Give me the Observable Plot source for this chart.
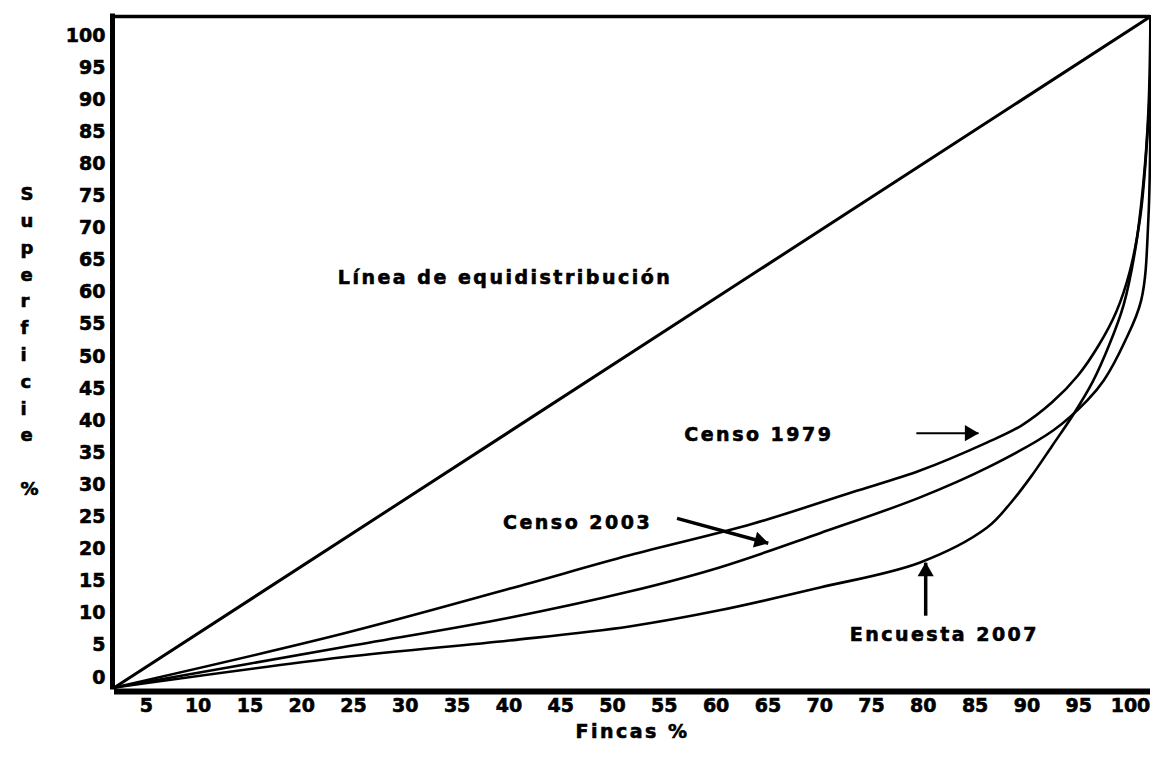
<!DOCTYPE html>
<html>
<head>
<meta charset="utf-8">
<script src="https://cdn.jsdelivr.net/npm/d3@7"></script>
<script src="https://cdn.jsdelivr.net/npm/@observablehq/plot@0.6"></script>
<style>
  html, body { margin: 0; padding: 0; background: #fff; }
  #chart { position: relative; width: 1151px; height: 770px; overflow: hidden; background: #fff; }
  #chart svg { position: absolute; left: 0; top: 0; }
  #chart svg text { stroke: #000; stroke-width: 0.6px; paint-order: stroke; }
</style>
</head>
<body>
<div id="chart"></div>
<script>
// ---- Data (Fincas % on x, Superficie % on y) ----
const equidistFincas = [0, 100];
const equidistSuperficie = [0, 100];

const fincas1979 = [0, 22.0, 38.1, 49.7, 61.6, 71.2, 77.7, 84.2, 87.5, 90.5, 93.0, 95.0, 96.7, 98.0, 99.0, 99.6, 100, 100];
const superficie1979 = [0, 8.0, 14.7, 19.7, 24.4, 29.1, 32.3, 36.5, 39.0, 42.5, 46.5, 51.0, 56.0, 62.0, 70.0, 80.0, 92, 100];

const fincas2003 = [0, 22.0, 38.1, 49.7, 58.4, 68.1, 77.7, 84.3, 90.6, 93.9, 95.5, 97.5, 99.1, 99.8, 100];
const superficie2003 = [0, 6.0, 10.4, 14.3, 17.9, 23.0, 28.3, 32.8, 38.3, 42.8, 45.8, 51.5, 57.7, 70, 100];

const fincas2007 = [0, 22.0, 38.1, 49.7, 58.4, 68.1, 77.7, 84.2, 86.5, 88.5, 90.5, 92.6, 94.4, 96.0, 97.4, 98.5, 99.3, 99.8, 100];
const superficie2007 = [0, 4.5, 7.0, 9.1, 11.5, 14.9, 18.6, 23.8, 27.5, 31.5, 36.0, 40.8, 45.5, 51.0, 57.0, 65.0, 75.0, 86.0, 100];

const xTicks = [5, 10, 15, 20, 25, 30, 35, 40, 45, 50, 55, 60, 65, 70, 75, 80, 85, 90, 95, 100];
const yTicks = [0, 5, 10, 15, 20, 25, 30, 35, 40, 45, 50, 55, 60, 65, 70, 75, 80, 85, 90, 95, 100];

const labelTexts = ["Línea de equidistribución", "Censo 1979", "Censo 2003", "Encuesta 2007"];
const labelFincas = [37.7, 62.2, 44.7, 80.1];
const labelSuperficie = [61.0, 37.6, 24.6, 7.8];

// annotation arrows: [fincas, superficie] of tail and tip
const arrow1979 = {from: [77.4, 37.9], to: [83.4, 37.9]};
const arrow2003 = {from: [54.3, 25.2], to: [63.1, 21.5]};
const arrow2007 = {from: [78.3, 10.7], to: [78.3, 18.6]};

const xTitle = "Fincas %";
const yTitle = "Superficie";
const yTitleUnit = "%";

// ---- Tables built from the arrays ----
const rows = [
  ...fincas1979.map((x, i) => ({serie: "Censo 1979", x, y: superficie1979[i]})),
  ...fincas2003.map((x, i) => ({serie: "Censo 2003", x, y: superficie2003[i]})),
  ...fincas2007.map((x, i) => ({serie: "Encuesta 2007", x, y: superficie2007[i]}))
];
const diag = equidistFincas.map((x, i) => ({x, y: equidistSuperficie[i]}));
const labels = labelTexts.map((t, i) => ({t, x: labelFincas[i], y: labelSuperficie[i]}));
const seg = (a) => [{x1: a.from[0], y1: a.from[1], x2: a.to[0], y2: a.to[1]}];
const tip = (a) => [{x: a.to[0], y: a.to[1]}];

const font = "'DejaVu Sans', 'Liberation Sans', sans-serif";
const headR = 6;

const main = Plot.plot({
  width: 1151,
  height: 770,
  marginLeft: 114,
  marginRight: 1,
  marginTop: 16,
  marginBottom: 83,
  x: {domain: [0, 100]},
  y: {domain: [0, 100], axis: null},
  style: {fontFamily: font, fontWeight: "bold", fontSize: "19px", background: "white", color: "black"},
  marks: [
    Plot.axisX(xTicks, {tickSize: 0, tickPadding: 11, dx: -20, label: null, fontSize: 19, fontWeight: "bold"}),
    Plot.line(diag, {x: "x", y: "y", stroke: "black", strokeWidth: 3}),
    Plot.line(rows, {x: "x", y: "y", z: "serie", curve: "catmull-rom", stroke: "black", strokeWidth: 2.6}),
    Plot.ruleX([0], {stroke: "black", strokeWidth: 5, dx: -2, strokeLinecap: "square"}),
    Plot.ruleY([0], {stroke: "black", strokeWidth: 6, dy: 4}),
    Plot.ruleY([100], {stroke: "black", strokeWidth: 3.5}),
    Plot.text(labels, {x: "x", y: "y", text: "t", fontSize: 19, fontWeight: "bold", fill: "black"}),
    // arrows: shafts
    Plot.link(seg(arrow1979), {x1: "x1", y1: "y1", x2: "x2", y2: "y2", stroke: "black", strokeWidth: 2}),
    Plot.link(seg(arrow2003), {x1: "x1", y1: "y1", x2: "x2", y2: "y2", stroke: "black", strokeWidth: 3.5}),
    Plot.link(seg(arrow2007), {x1: "x1", y1: "y1", x2: "x2", y2: "y2", stroke: "black", strokeWidth: 3.5}),
    // arrows: filled heads
    Plot.dot(tip(arrow1979), {x: "x", y: "y", symbol: "triangle", r: headR, fill: "black", stroke: "none", rotate: 90, dx: -9}),
    Plot.dot(tip(arrow2003), {x: "x", y: "y", symbol: "triangle", r: headR, fill: "black", stroke: "none", rotate: 105, dx: -8.7, dy: -2.4}),
    Plot.dot(tip(arrow2007), {x: "x", y: "y", symbol: "triangle", r: headR, fill: "black", stroke: "none", dy: 9}),
    Plot.text([xTitle], {frameAnchor: "bottom", dy: 50, fontSize: 19, fontWeight: "bold", fill: "black"}),
    Plot.text([yTitle.split("").join("\n") + "\n\u00a0\n" + yTitleUnit], {frameAnchor: "left", dx: -94, dy: -13, lineHeight: 1.49, fontSize: 18, fontWeight: "bold", fill: "black"})
  ]
});
d3.select(main).selectAll('g[aria-label="text"] text').style("letter-spacing", "2.5px");

const yAxisLayer = Plot.plot({
  width: 120,
  height: 770,
  marginLeft: 114,
  marginRight: 1,
  marginTop: 35,
  marginBottom: 93,
  x: {domain: [0, 100], axis: null},
  y: {domain: [0, 100]},
  style: {fontFamily: font, fontWeight: "bold", fontSize: "19px", background: "transparent", color: "black"},
  marks: [
    Plot.axisY(yTicks, {tickSize: 0, tickPadding: 9, label: null, fontSize: 19, fontWeight: "bold"})
  ]
});
yAxisLayer.style.pointerEvents = "none";

const chart = document.getElementById("chart");
chart.appendChild(main);
chart.appendChild(yAxisLayer);
</script>
</body>
</html>
